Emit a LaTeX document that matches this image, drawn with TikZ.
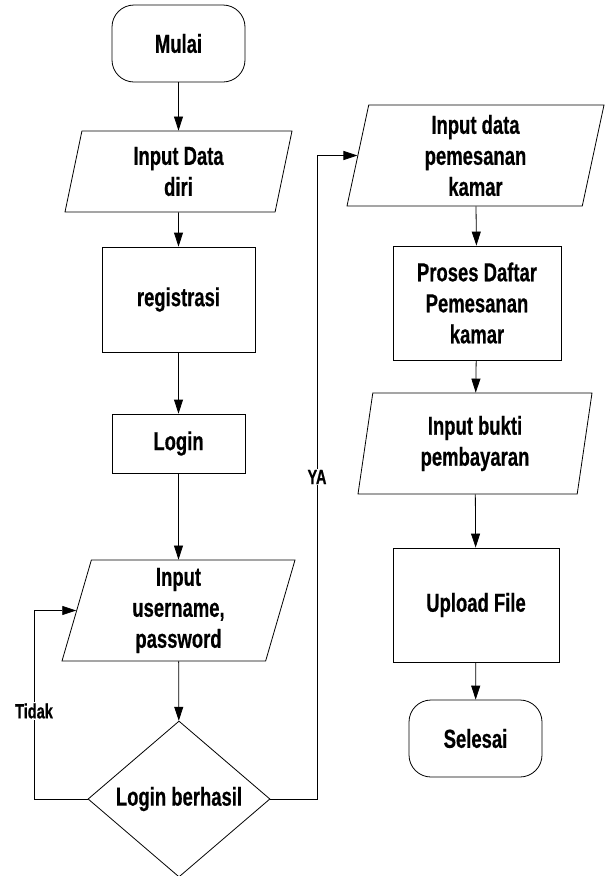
\documentclass[tikz,border=0pt]{standalone}
\usepackage{fontspec}
\setmainfont[FakeStretch=0.71, BoldFeatures={FakeBold=0.5}]{Liberation Sans}
\usetikzlibrary{arrows.meta,shapes.geometric}

\tikzset{
  base/.style={draw, line width=0.8pt, align=center, inner sep=0pt,
    font=\bfseries\fontsize{26}{31}\selectfont},
  terminal/.style={base, rounded corners=22pt, minimum width=133pt, minimum height=77pt},
  process/.style={base, rectangle},
  io/.style={base, trapezium, trapezium left angle=71, trapezium right angle=109,
    trapezium stretches body},
  decision/.style={base, diamond, minimum width=182pt, minimum height=156pt},
  arr/.style={line width=0.8pt, -{Triangle[length=14pt,width=9pt]}},
  lbl/.style={fill=white, inner sep=1pt, font=\bfseries\fontsize{20.5}{24}\selectfont}
}

\begin{document}
\begin{tikzpicture}[x=1pt,y=-1pt]
    \useasboundingbox (0,0) rectangle (611,876);

    % kolom kiri
    \node[terminal] (mulai) at (178.5,43.5) {Mulai};
    \node[io, minimum width=227pt, minimum height=81pt] (datadiri) at (178.5,171.5) {Input Data\\diri};
    \node[process, minimum width=153pt, minimum height=105pt] (registrasi) at (178.5,299.5) {registrasi};
    \node[process, minimum width=133pt, minimum height=59pt] (login) at (178.5,443.5) {Login};
    \node[io, minimum width=233pt, minimum height=101pt] (userpass) at (178.5,610.5) {Input\\username,\\password};
    \node[decision] (berhasil) at (179,799) {Login berhasil};

    % kolom kanan
    \node[io, trapezium left angle=75, trapezium right angle=105,
          minimum width=257pt, minimum height=101pt] (pemesanan) at (475.5,155.5) {Input data\\pemesanan\\kamar};
    \node[process, minimum width=168pt, minimum height=114pt] (daftar) at (477,303) {Proses Daftar\\Pemesanan\\kamar};
    \node[io, trapezium left angle=75, trapezium right angle=105,
          minimum width=234pt, minimum height=101pt] (bukti) at (475,443.5) {Input bukti\\pembayaran};
    \node[process, minimum width=166pt, minimum height=114pt] (upload) at (476,605) {Upload File};
    \node[terminal] (selesai) at (475.5,738.5) {Selesai};

    \draw[arr] (mulai) -- (datadiri);
    \draw[arr] (datadiri) -- (registrasi);
    \draw[arr] (registrasi) -- (login);
    \draw[arr] (login) -- (userpass);
    \draw[arr] (userpass) -- (berhasil);

    \coordinate (tidakturn) at (34,799);
    \coordinate (yaturn) at (317,799);
    \draw[arr] (berhasil.west) -- (tidakturn) |- (userpass.west);
    \node[lbl] (tidak) at (34,711) {Tidak};
    \draw[arr] (berhasil.east) -- (yaturn) |- (pemesanan.west);
    \node[lbl] (ya) at (317,477) {YA};

    \draw[arr] (pemesanan) -- (daftar);
    \draw[arr] (daftar) -- (bukti);
    \draw[arr] (bukti) -- (upload);
    \draw[arr] (upload) -- (selesai);
\end{tikzpicture}
\end{document}
